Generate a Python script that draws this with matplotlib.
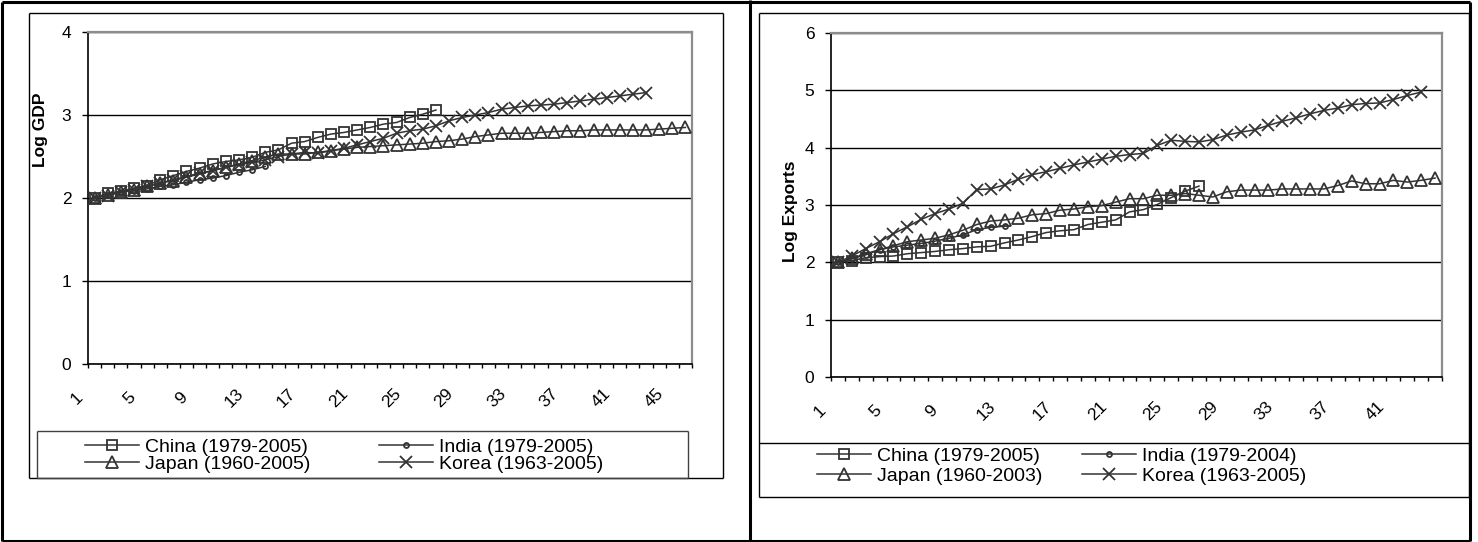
import numpy as np
import matplotlib
matplotlib.use("Agg")
import matplotlib.pyplot as plt
import matplotlib.transforms as mtransforms
from matplotlib.lines import Line2D

plt.rcParams['font.family'] = ['Liberation Sans', 'DejaVu Sans']

# ---------------- data ----------------
legend_gdp = ["China (1979-2005)", "India (1979-2005)", "Japan (1960-2005)", "Korea (1963-2005)"]
legend_exp = ["China (1979-2005)", "India (1979-2004)", "Japan (1960-2003)", "Korea (1963-2005)"]

n_cat_gdp = 46
n_cat_exp = 44

china_gdp = [2.00, 2.06, 2.08, 2.12, 2.15, 2.22, 2.27, 2.32, 2.36, 2.41, 2.44, 2.46, 2.49, 2.55,
             2.58, 2.66, 2.68, 2.73, 2.77, 2.79, 2.82, 2.85, 2.89, 2.91, 2.97, 3.01, 3.06]
india_gdp = [2.00, 2.04, 2.07, 2.09, 2.11, 2.14, 2.16, 2.19, 2.22, 2.24, 2.27, 2.31, 2.34, 2.38]
japan_gdp = [2.00, 2.04, 2.07, 2.10, 2.14, 2.18, 2.21, 2.25, 2.29, 2.33, 2.37, 2.41, 2.45, 2.49,
             2.53, 2.53, 2.53, 2.55, 2.57, 2.59, 2.61, 2.62, 2.63, 2.64, 2.65, 2.66, 2.68, 2.69,
             2.71, 2.74, 2.76, 2.78, 2.78, 2.78, 2.79, 2.80, 2.81, 2.81, 2.82, 2.82, 2.82, 2.82,
             2.82, 2.83, 2.84, 2.85]
korea_gdp = [2.00, 2.03, 2.07, 2.10, 2.14, 2.18, 2.22, 2.26, 2.30, 2.33, 2.37, 2.40, 2.43, 2.46,
             2.50, 2.53, 2.55, 2.54, 2.57, 2.60, 2.64, 2.68, 2.72, 2.78, 2.81, 2.83, 2.87, 2.93,
             2.97, 3.00, 3.03, 3.07, 3.09, 3.11, 3.12, 3.13, 3.15, 3.17, 3.19, 3.21, 3.23, 3.25, 3.27]

china_exp = [2.00, 2.03, 2.08, 2.10, 2.11, 2.15, 2.17, 2.19, 2.22, 2.24, 2.27, 2.28, 2.34, 2.39,
             2.45, 2.52, 2.55, 2.57, 2.66, 2.70, 2.74, 2.88, 2.92, 3.01, 3.13, 3.24, 3.33]
india_exp = [2.00, 2.06, 2.13, 2.22, 2.27, 2.30, 2.33, 2.37, 2.42, 2.48, 2.57, 2.61, 2.63]
japan_exp = [2.00, 2.07, 2.15, 2.22, 2.29, 2.36, 2.39, 2.42, 2.48, 2.56, 2.66, 2.72, 2.74, 2.77,
             2.83, 2.85, 2.91, 2.93, 2.97, 2.99, 3.05, 3.11, 3.11, 3.17, 3.17, 3.20, 3.17, 3.14,
             3.23, 3.26, 3.26, 3.26, 3.28, 3.28, 3.28, 3.28, 3.34, 3.42, 3.37, 3.37, 3.43, 3.40,
             3.43, 3.47]
korea_exp = [2.00, 2.11, 2.24, 2.36, 2.50, 2.62, 2.75, 2.85, 2.93, 3.03, 3.27, 3.28, 3.35, 3.45,
             3.53, 3.58, 3.64, 3.70, 3.75, 3.80, 3.85, 3.88, 3.90, 4.04, 4.13, 4.11, 4.10, 4.14,
             4.22, 4.27, 4.31, 4.39, 4.46, 4.52, 4.59, 4.65, 4.69, 4.75, 4.77, 4.78, 4.84, 4.91, 4.97]

# ---------------- figure ----------------
W, H = 1478, 542
fig = plt.figure(figsize=(W / 100, H / 100), dpi=100)
fig.patch.set_facecolor('white')


def fx(x):
    return x / W


def fy(y):
    return 1 - y / H


def hline(x0, x1, y, lw=1.0, color='black'):
    fig.add_artist(Line2D([fx(x0), fx(x1)], [fy(y), fy(y)], transform=fig.transFigure,
                          color=color, lw=lw, solid_capstyle='butt'))


def vline(x, y0, y1, lw=1.0, color='black'):
    fig.add_artist(Line2D([fx(x), fx(x)], [fy(y0), fy(y1)], transform=fig.transFigure,
                          color=color, lw=lw, solid_capstyle='butt'))


def rect(x0, y0, x1, y1, lw=1.0, color='black'):
    hline(x0, x1, y0, lw, color)
    hline(x0, x1, y1, lw, color)
    vline(x0, y0, y1, lw, color)
    vline(x1, y0, y1, lw, color)


C = '#333333'
styles = [dict(marker='s', ms=7.2), dict(marker='o', ms=3.6),
          dict(marker='^', ms=8.0), dict(marker='x', ms=8.5)]


def draw_chart(box, series, labels, ncat, ymax, ylabel, ylabel_pos, leg_anchor, colsp, labsp):
    x0, y0, x1, y1 = box
    ax = fig.add_axes([fx(x0), fy(y1), (x1 - x0) / W, (y1 - y0) / H])
    handles = []
    for vals, st, lab in zip(series, styles, labels):
        xs = np.arange(1, len(vals) + 1)
        h, = ax.plot(xs, vals, color=C, lw=1.1, marker=st['marker'], ms=st['ms'],
                     mfc='none', mec=C, mew=1.3, label=lab, clip_on=False, zorder=3)
        handles.append(h)
    ax.set_xlim(0.5, ncat + 0.5)
    ax.set_ylim(0, ymax)
    ax.set_yticks(range(ymax + 1))
    ax.set_yticklabels([str(v) for v in range(ymax + 1)], fontsize=12.5)
    ax.set_xticks(np.arange(0.5, ncat + 1.0, 1.0))
    ax.set_xticklabels([])
    ax.tick_params(axis='y', direction='out', length=4, width=1, pad=8, colors='black')
    ax.tick_params(axis='x', direction='out', length=3, width=1, colors='black')
    ax.yaxis.grid(True, color='black', lw=1.0)
    ax.set_axisbelow(True)
    for s in ['left', 'bottom']:
        ax.spines[s].set_color('black')
        ax.spines[s].set_linewidth(1.2)
    for s in ['top', 'right']:
        ax.spines[s].set_color('#8c8c8c')
        ax.spines[s].set_linewidth(1.6)
    off = mtransforms.ScaledTranslation(-18 / 100, -34 / 100, fig.dpi_scale_trans)
    trans = mtransforms.blended_transform_factory(ax.transData, ax.transAxes) + off
    for k in range(1, ncat + 1, 4):
        ax.text(k, 0, str(k), transform=trans, rotation=45, ha='center', va='center',
                fontsize=12.5)
    fig.text(fx(ylabel_pos[0]), fy(ylabel_pos[1]), ylabel, rotation=90, fontsize=12.5,
             fontweight='bold', ha='center', va='center')
    order = [0, 2, 1, 3]
    ax.legend([handles[i] for i in order], [labels[i] for i in order], ncol=2,
              loc='upper left', bbox_to_anchor=(fx(leg_anchor[0]), fy(leg_anchor[1])),
              bbox_transform=fig.transFigure, frameon=False, fontsize=14,
              handlelength=2.8, handletextpad=0.3, columnspacing=colsp,
              labelspacing=labsp, borderpad=0, borderaxespad=0, numpoints=1)
    return ax


draw_chart((88, 32, 692, 364), [china_gdp, india_gdp, japan_gdp, korea_gdp], legend_gdp,
           n_cat_gdp, 4, 'Log GDP', (40, 130), (85, 438), 3.5, -0.02)
draw_chart((831, 33, 1442, 377), [china_exp, india_exp, japan_exp, korea_exp], legend_exp,
           n_cat_exp, 6, 'Log Exports', (790, 211), (817, 447), 2.0, 0.15)

# frames
rect(29, 13, 723, 478, lw=1.0)
rect(37, 431, 688, 478, lw=1.0, color='#404040')
rect(759, 13, 1469, 497, lw=1.0)
hline(759, 1469, 443, lw=1.0)
# outer border and divider
rect(2, 1.5, 1470, 540.5, lw=2.2)
vline(749.5, 0, 542, lw=2.2)

fig.savefig('out.png', dpi=100, facecolor='white')
